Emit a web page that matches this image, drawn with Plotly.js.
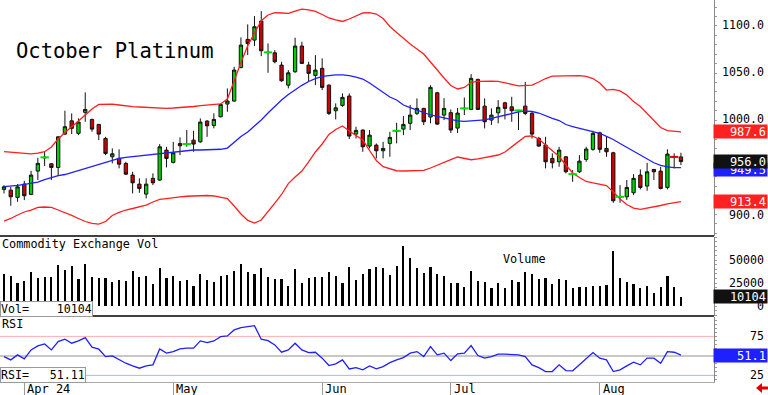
<!DOCTYPE html>
<html>
<head>
<meta charset="utf-8">
<script src="https://cdn.plot.ly/plotly-3.0.1.min.js"></script>
<style>html,body{margin:0;padding:0;background:#fff;}#chart{width:768px;height:395px;}</style>
</head>
<body>
<div id="chart"></div>
<script>
// ---------------- DATA ----------------
const openP = [926.5, 925.7, 918.0, 932.1, 921.2, 945.9, 960.0, 953.7, 949.8, 985.2,
999.3, 986.0, 1008.3, 1000.8, 995.5, 980.6, 961.1, 959.4, 954.1, 941.7,
932.1, 921.5, 938.2, 936.4, 968.2, 955.2, 975.3, 974.3, 978.8, 977.0,
999.0, 994.4, 1003.6, 1017.1, 1020.3, 1056.0, 1085.8, 1085.0, 1105.2, 1071.7,
1071.5, 1058.5, 1037.2, 1051.4, 1078.7, 1058.5, 1047.5, 1055.0, 1037.2, 1010.0,
1015.7, 1025.6, 985.2, 989.5, 972.5, 973.5, 967.5, 975.3, 988.4, 990.5,
996.6, 1007.2, 1012.5, 1003.3, 1029.1, 1005.4, 1008.0, 991.6, 1012.2, 1011.4,
1043.3, 1014.9, 1000.1, 1007.8, 1018.4, 1014.2, 1010.0, 1014.9, 1007.2, 980.6,
973.5, 959.4, 955.8, 961.1, 942.4, 945.2, 958.3, 969.0, 986.6, 970.0,
965.4, 918.3, 918.6, 922.9, 941.7, 930.0, 947.7, 945.9, 928.6, 961.3,
961.0];
const highP = [931.0, 929.2, 932.1, 935.6, 946.2, 960.0, 966.4, 954.5, 983.1, 1010.0,
1007.2, 1001.9, 1029.5, 1001.5, 996.0, 982.3, 970.0, 969.0, 955.8, 945.2,
938.2, 938.2, 943.5, 974.6, 971.7, 977.0, 981.7, 989.5, 988.7, 1001.9,
1000.1, 1007.2, 1017.2, 1033.7, 1056.7, 1087.9, 1101.7, 1110.5, 1115.8, 1081.5,
1074.4, 1062.0, 1053.2, 1087.5, 1083.2, 1062.0, 1069.1, 1065.6, 1038.0, 1017.8,
1028.4, 1028.4, 993.0, 990.2, 989.5, 975.3, 977.0, 987.7, 997.2, 1004.3,
1016.0, 1023.1, 1013.0, 1037.2, 1030.1, 1023.4, 1011.4, 1012.8, 1024.0, 1048.9,
1044.0, 1023.1, 1012.5, 1021.3, 1019.5, 1024.8, 1011.0, 1040.7, 1008.9, 982.3,
982.3, 964.7, 971.7, 961.8, 947.0, 962.9, 971.7, 988.7, 987.7, 983.1,
966.4, 931.0, 936.4, 942.7, 947.7, 954.7, 948.2, 950.5, 969.0, 964.7,
965.4];
const lowP = [922.2, 909.1, 913.3, 915.1, 920.4, 936.4, 951.2, 936.4, 940.6, 984.1,
985.2, 984.1, 998.3, 987.7, 978.8, 962.9, 954.1, 948.8, 941.7, 922.2,
922.9, 916.9, 931.0, 935.5, 949.8, 954.1, 962.9, 971.7, 966.4, 976.0,
982.3, 991.3, 1003.0, 1008.9, 1019.5, 1055.0, 1069.1, 1078.7, 1068.0, 1050.3,
1060.3, 1040.7, 1033.7, 1050.3, 1060.0, 1040.7, 1037.2, 1031.9, 1005.4, 1000.8,
1014.2, 979.9, 980.6, 966.4, 970.0, 959.4, 959.4, 961.1, 975.3, 984.1,
989.5, 1005.4, 994.8, 996.6, 994.8, 1000.1, 986.3, 986.3, 1005.4, 1010.7,
1010.7, 991.3, 994.8, 996.6, 1000.8, 998.3, 989.5, 1005.4, 980.6, 971.7,
948.8, 948.8, 950.5, 943.5, 934.6, 944.1, 955.8, 967.5, 965.4, 961.1,
912.3, 912.3, 915.1, 920.4, 926.5, 925.0, 936.4, 926.5, 926.5, 948.8,
952.3];
const closeP = [929.2, 918.6, 929.2, 919.7, 941.7, 954.1, 960.5, 949.8, 982.3, 993.0,
991.3, 998.0, 1011.4, 990.5, 985.2, 964.7, 964.3, 953.3, 942.7, 933.5,
927.5, 932.1, 933.5, 971.7, 959.4, 965.4, 972.8, 974.6, 974.6, 998.0,
994.0, 1000.8, 1016.7, 1020.3, 1053.2, 1079.7, 1081.5, 1099.2, 1073.7, 1072.0,
1062.0, 1041.8, 1050.3, 1078.7, 1060.3, 1049.7, 1053.2, 1034.8, 1007.2, 1013.1,
1024.2, 983.1, 989.1, 971.7, 984.1, 967.5, 970.0, 981.7, 988.7, 995.5,
1005.4, 1012.5, 998.3, 1034.8, 995.8, 1012.5, 989.5, 1007.5, 1012.5, 1044.4,
1011.4, 998.3, 1005.4, 1013.6, 1012.5, 1010.0, 1010.3, 1007.2, 985.2, 972.5,
955.8, 954.7, 968.2, 945.2, 942.7, 956.5, 969.3, 986.0, 969.0, 966.4,
914.4, 918.6, 928.6, 938.2, 928.6, 945.2, 945.2, 927.5, 964.0, 961.0,
956.0];
const bandUpper = [966.7, 965.9, 965.1, 964.6, 964.1, 965.1, 966.5, 971.5, 980.0, 986.9,
992.7, 999.1, 1005.5, 1011.9, 1016.8, 1017.2, 1017.0, 1016.1, 1015.0, 1014.3,
1014.0, 1013.5, 1012.9, 1012.6, 1012.6, 1012.9, 1013.2, 1013.7, 1014.5, 1015.4,
1016.1, 1016.6, 1017.2, 1022.5, 1042.7, 1061.2, 1079.1, 1093.1, 1105.6, 1111.7,
1114.1, 1113.8, 1113.5, 1115.9, 1118.0, 1117.0, 1115.4, 1112.2, 1108.5, 1106.4,
1104.8, 1107.4, 1110.3, 1113.8, 1114.3, 1112.7, 1108.0, 1099.5, 1093.1, 1086.7,
1080.9, 1075.6, 1070.3, 1061.8, 1052.7, 1044.8, 1036.8, 1033.1, 1034.7, 1040.2,
1041.1, 1041.6, 1041.4, 1041.1, 1040.0, 1038.1, 1036.5, 1036.6, 1037.3, 1040.5,
1044.2, 1046.7, 1046.9, 1046.9, 1047.4, 1047.3, 1046.4, 1044.2, 1039.5, 1032.0,
1032.6, 1031.0, 1026.7, 1019.8, 1014.5, 1007.1, 999.1, 992.2, 989.0, 988.0,
987.6];
const bandMid = [929.5, 929.9, 930.8, 931.9, 933.0, 934.3, 936.9, 939.1, 941.0, 942.3,
944.4, 946.8, 948.9, 951.0, 953.1, 955.0, 957.2, 959.3, 960.6, 961.4,
962.5, 963.2, 964.1, 964.8, 965.7, 966.5, 967.3, 967.8, 968.3, 968.3,
968.3, 968.3, 969.1, 970.4, 976.8, 982.6, 987.4, 993.5, 1000.2, 1007.6,
1015.0, 1021.4, 1027.3, 1032.6, 1037.0, 1041.1, 1044.2, 1046.4, 1047.4, 1048.0,
1048.0, 1047.4, 1045.8, 1043.7, 1039.5, 1034.7, 1029.4, 1024.6, 1021.4, 1016.1,
1013.4, 1010.8, 1008.1, 1005.5, 1003.9, 1002.3, 1000.7, 999.3, 998.8, 999.1,
999.4, 1000.4, 1001.8, 1003.6, 1005.7, 1007.1, 1008.7, 1009.5, 1009.2, 1007.6,
1004.4, 1002.0, 999.6, 995.4, 993.1, 991.2, 989.3, 988.0, 986.1, 982.7,
979.5, 975.2, 971.0, 966.7, 962.7, 959.1, 954.8, 951.9, 950.3, 949.7,
949.5];
const bandLower = [892.9, 895.6, 899.3, 902.5, 904.6, 907.3, 907.8, 907.3, 904.6, 902.0,
898.8, 895.6, 892.4, 890.3, 889.7, 892.4, 898.8, 902.0, 904.6, 906.2,
907.8, 909.9, 913.1, 915.8, 916.8, 917.9, 918.6, 919.2, 919.7, 920.0,
920.0, 919.5, 918.4, 916.8, 908.9, 900.4, 893.5, 890.8, 894.0, 902.5,
912.0, 921.1, 932.7, 939.6, 946.0, 955.6, 966.2, 974.7, 984.8, 990.1,
993.8, 988.5, 983.7, 978.9, 967.8, 957.2, 950.6, 948.1, 946.3, 946.0,
946.0, 946.0, 946.6, 949.2, 952.4, 955.6, 958.2, 960.9, 959.8, 958.0,
958.8, 960.4, 961.9, 963.0, 966.2, 972.0, 977.3, 982.7, 983.2, 980.0,
973.6, 967.8, 961.4, 952.4, 943.9, 939.1, 934.9, 933.3, 932.2, 930.6,
923.7, 916.3, 910.4, 906.7, 905.3, 906.4, 907.8, 909.4, 911.0, 912.0,
913.4];
const volume = [34500, 32600, 25300, 27500, 37300, 30800, 31800, 31800, 44600, 39100,
43500, 29300, 45700, 31200, 30100, 30100, 25800, 28300, 27500, 38400,
31800, 32900, 23900, 41300, 30800, 32600, 27500, 28300, 21700, 34800,
28300, 25800, 32600, 33700, 38000, 45700, 36600, 34800, 41600, 31200,
29300, 29300, 21700, 40200, 25300, 30100, 31800, 31800, 36600, 32900,
24700, 42700, 28300, 34800, 40200, 42700, 41300, 33700, 43500, 65200,
52500, 41600, 36200, 42100, 35100, 32600, 25300, 24700, 21000, 38000,
27200, 26400, 19200, 25300, 19200, 28300, 25800, 37300, 34800, 29300,
30800, 23600, 29000, 28300, 19900, 20300, 20300, 22100, 22100, 22800,
59800, 30800, 25800, 23600, 19200, 22100, 13800, 20300, 32900, 21000,
10104];
const rsi = [49.1, 44.9, 51.3, 46.2, 57.7, 62.8, 65.4, 57.7, 68.3, 71.4,
66.3, 69.2, 73.5, 61.2, 58.6, 49.1, 50.0, 44.9, 40.6, 37.2,
34.2, 37.2, 38.5, 59.0, 53.5, 55.5, 59.0, 59.9, 59.9, 69.2,
67.1, 69.2, 74.7, 75.6, 83.3, 86.3, 87.2, 88.8, 71.4, 69.6,
64.1, 54.7, 57.7, 66.3, 57.7, 54.2, 54.7, 47.1, 37.6, 39.7,
44.9, 33.3, 35.0, 32.1, 37.2, 33.3, 36.3, 41.4, 44.9, 47.8,
53.5, 55.5, 49.1, 61.9, 51.3, 53.5, 44.0, 52.6, 53.5, 63.2,
50.4, 47.1, 49.1, 52.2, 52.2, 51.3, 51.3, 49.1, 38.5, 35.0,
29.9, 29.9, 38.5, 31.2, 30.8, 38.5, 46.2, 54.2, 47.1, 44.9,
29.9, 32.1, 37.2, 41.9, 38.5, 47.1, 47.1, 40.6, 55.5, 54.7,
51.11];
const monthTickIdx = [3, 25, 47, 66, 88];
const monthTickText = ['Apr 24', 'May', 'Jun', 'Jul', 'Aug'];
const priceTicks = [900, 1000, 1050, 1100];
const volTicks = [0, 25000, 50000];
const rsiTicks = [25, 75];
const rsiLevels = [75, 50, 25];
const chartTitle = 'October Platinum';
const volPanelTitle = 'Commodity Exchange Vol';
const volInnerLabel = 'Volume';
const rsiPanelTitle = 'RSI';

// ---------------- BUILD ----------------
const idx = closeP.map((_, i) => i);
const last = a => a[a.length - 1];
const F = 'DejaVu Sans Mono, monospace';
const PX = x => x / 768, PY = y => 1 - y / 395;
const XR = PX(714);
const nb = n => '\u00a0'.repeat(n);

// near-flat candles (doji) are drawn as a coloured dash, as in the original
const dojiIdx = idx.filter(i => Math.abs(openP[i] - closeP[i]) <= 0.5);

const traces = [
  {type:'scatter', mode:'lines', x: idx, y: bandUpper, xaxis:'x', yaxis:'y', line:{color:'#ff1f1f', width:1.3}, hoverinfo:'skip'},
  {type:'scatter', mode:'lines', x: idx, y: bandLower, xaxis:'x', yaxis:'y', line:{color:'#ff1f1f', width:1.3}, hoverinfo:'skip'},
  {type:'scatter', mode:'lines', x: idx, y: bandMid, xaxis:'x', yaxis:'y', line:{color:'#1f1fff', width:1.3}, hoverinfo:'skip'},
  {type:'candlestick', x: idx, open: openP, high: highP, low: lowP, close: closeP, xaxis:'x', yaxis:'y',
   increasing:{line:{color:'#111', width:1}, fillcolor:'#00d000'},
   decreasing:{line:{color:'#111', width:1}, fillcolor:'#d00000'},
   whiskerwidth:0, hoverinfo:'skip'},
  {type:'scatter', mode:'markers', x: dojiIdx, y: dojiIdx.map(i => closeP[i]), xaxis:'x', yaxis:'y',
   marker:{symbol:'line-ew', size:6, line:{width:2, color: dojiIdx.map(i => closeP[i] >= openP[i] ? '#00e000' : '#e00000')}}, hoverinfo:'skip'},
  {type:'bar', x: idx, y: volume, xaxis:'x', yaxis:'y2', width:0.32, marker:{color:'#000', line:{width:0}}, hoverinfo:'skip'},
  {type:'scatter', mode:'lines', x: idx, y: rsi, xaxis:'x', yaxis:'y3', line:{color:'#1f1fff', width:1.3}, hoverinfo:'skip'}
];

const baseY = {side:'right', anchor:'x', showgrid:false, zeroline:false, showticklabels:false,
  showline:true, linecolor:'#888', linewidth:1, ticks:'outside', ticklen:2, tickcolor:'#999', fixedrange:true};

const ann = [];
const txt = (o) => ann.push(Object.assign({showarrow:false, font:{family:F, size:12, color:'#000'}}, o));

// right-axis tick labels
priceTicks.forEach(v => txt({xref:'paper', x:PX(766), xanchor:'right', yref:'y', y:v, yanchor:'middle', yshift:(v >= 1000 ? 1 : -1), text:v.toFixed(1), font:{family:F, size:11.6, color:'#000'}}));
volTicks.forEach(v => txt({xref:'paper', x:PX(766), xanchor:'right', yref:'y2', y:v, yanchor:'middle', text:String(v), font:{family:F, size:11.6, color:'#000'}}));
rsiTicks.forEach(v => txt({xref:'paper', x:PX(766), xanchor:'right', yref:'y3', y:v, yanchor:'middle', text:String(v), font:{family:F, size:11.6, color:'#000'}}));

// value boxes
const box = (yref, y, text, bg, ys) => ann.push({showarrow:false, xref:'paper', x:1, xanchor:'right', yref, y, yanchor:'middle', yshift: ys || 0,
  text, bgcolor:bg, width:51, height:11, align:'right', borderpad:1, font:{family:F, size:12, color:'#fff'}});
box('y', last(bandUpper), last(bandUpper).toFixed(1), '#ff2020');
box('y', last(bandLower), last(bandLower).toFixed(1), '#ff2020');
box('y', last(bandMid), last(bandMid).toFixed(1), '#1f1fff', -2);
box('y', last(closeP), last(closeP).toFixed(1), '#111');
box('y2', last(volume), String(last(volume)), '#111');
box('y3', last(rsi), last(rsi).toFixed(1), '#1f1fff');

// panel texts
txt({xref:'paper', x:PX(14), xanchor:'left', yref:'paper', y:PY(50.5), yanchor:'middle', text:chartTitle, font:{family:F, size:20.5, color:'#000'}});
txt({xref:'paper', x:0, xanchor:'left', yref:'paper', y:PY(244), yanchor:'middle', text:volPanelTitle, font:{family:F, size:11.8, color:'#000'}});
txt({xref:'paper', x:PX(524), xanchor:'center', yref:'paper', y:PY(258.5), yanchor:'middle', text:volInnerLabel, font:{family:F, size:11.8, color:'#000'}});
txt({xref:'paper', x:0, xanchor:'left', yref:'paper', y:PY(324), yanchor:'middle', text:rsiPanelTitle, font:{family:F, size:11.8, color:'#000'}});
ann.push({showarrow:false, xref:'paper', x:0, xanchor:'left', yref:'paper', y:PY(309), yanchor:'middle',
  text:'Vol=' + nb(4) + String(last(volume)), bgcolor:'#fff', bordercolor:'#999', borderwidth:1, borderpad:0,
  font:{family:F, size:11.6, color:'#000'}});
ann.push({showarrow:false, xref:'paper', x:0, xanchor:'left', yref:'paper', y:PY(375), yanchor:'middle',
  text:'RSI=' + nb(3) + last(rsi).toFixed(2), bgcolor:'#fff', bordercolor:'#999', borderwidth:1, borderpad:0,
  font:{family:F, size:11.6, color:'#000'}});
monthTickIdx.forEach((v, k) => txt({xref:'x', x:v, xanchor:'left', xshift:1, yref:'paper', y:PY(388.5), yanchor:'middle', text:monthTickText[k], font:{family:F, size:12, color:'#000'}}));

const shapes = [];
// panel separators
[236, 316].forEach(y => shapes.push({type:'line', xref:'paper', yref:'paper', x0:0, x1:XR, y0:PY(y), y1:PY(y), line:{color:'#000', width:1.5}}));
// RSI guide lines
const lvlCol = ['#ffb0b0', '#c8c8c8', '#b0b0ff'];
const lvlW = [1, 2, 1];
rsiLevels.forEach((v, k) => shapes.push({type:'line', xref:'paper', yref:'y3', x0:0, x1:XR, y0:v, y1:v, line:{color:lvlCol[k], width:lvlW[k]}, layer:'below'}));
// red arrow bottom right
shapes.push({type:'path', xref:'paper', yref:'paper', fillcolor:'#e00000', line:{width:0},
  path:`M ${PX(756)} ${PY(388)} L ${PX(762)} ${PY(383)} L ${PX(762)} ${PY(386.5)} L ${PX(768)} ${PY(386.5)} L ${PX(768)} ${PY(389.5)} L ${PX(762)} ${PY(389.5)} L ${PX(762)} ${PY(393)} Z`});

const layout = {
  width:768, height:395, margin:{l:0, r:0, t:0, b:0}, paper_bgcolor:'#fff', plot_bgcolor:'#fff',
  showlegend:false, hovermode:false, bargap:0,
  xaxis:{domain:[0, XR], range:[-0.591, 104.88], anchor:'y3', showgrid:false, zeroline:false,
    tickmode:'array', tickvals:monthTickIdx, ticks:'outside', ticklen:13, tickcolor:'#999', tickwidth:1,
    showticklabels:false, showline:true, linecolor:'#aaa', rangeslider:{visible:false}, fixedrange:true},
  yaxis: Object.assign({}, baseY, {domain:[PY(236), 1], range:[877.0, 1127.6], dtick:10}),
  yaxis2: Object.assign({}, baseY, {domain:[PY(316), PY(237)], range:[-10870, 75000], dtick:5000}),
  yaxis3: Object.assign({}, baseY, {domain:[PY(382), PY(317)], range:[16.5, 99.9], dtick:5}),
  annotations: ann,
  shapes: shapes
};

Plotly.newPlot('chart', traces, layout, {staticPlot:true, displayModeBar:false});
</script>
</body>
</html>
